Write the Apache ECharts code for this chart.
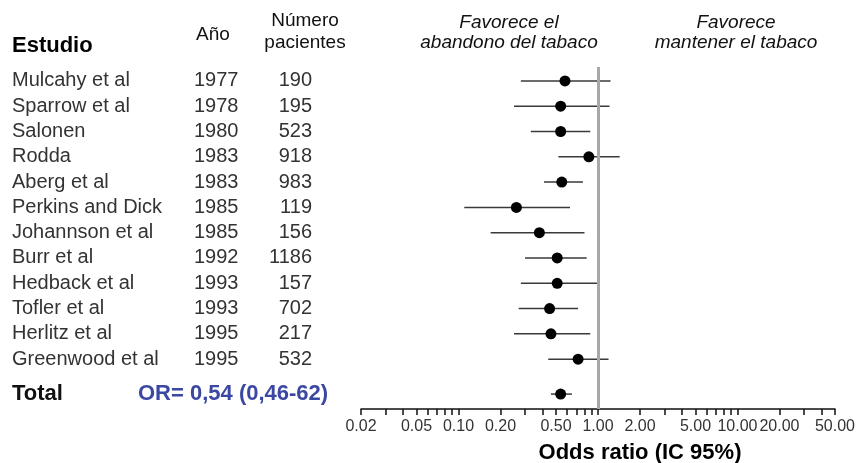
<!DOCTYPE html>
<html><head><meta charset="utf-8">
<script src="https://cdn.jsdelivr.net/npm/echarts@6/dist/echarts.min.js"></script>
<style>html,body{margin:0;padding:0;background:#fff}#c{width:858px;height:463px}</style>
</head><body><div id="c"></div>
<script>
const studies = ['Mulcahy et al','Sparrow et al','Salonen','Rodda','Aberg et al','Perkins and Dick','Johannson et al','Burr et al','Hedback et al','Tofler et al','Herlitz et al','Greenwood et al'];
const years = [1977,1978,1980,1983,1983,1985,1985,1992,1993,1993,1995,1995];
const patients = [190,195,523,918,983,119,156,1186,157,702,217,532];
const oddsRatio = [0.58,0.54,0.54,0.86,0.55,0.26,0.38,0.51,0.51,0.45,0.46,0.72];
const ciLow =     [0.28,0.25,0.33,0.52,0.41,0.11,0.17,0.30,0.28,0.27,0.25,0.44];
const ciHigh =    [1.23,1.21,0.88,1.43,0.78,0.63,0.80,0.83,0.99,0.72,0.88,1.19];
const totalOR = 0.54, totalLow = 0.46, totalHigh = 0.65;
const totalLabel = 'Total';
const totalText = 'OR= 0,54 (0,46-62)';
const tickLabelValues = [0.02,0.05,0.1,0.2,0.5,1,2,5,10,20,50];
const tickLabels = ['0.02','0.05','0.10','0.20','0.50','1.00','2.00','5.00','10.00','20.00','50.00'];
const tickMarkValues = [0.02,0.03,0.04,0.05,0.06,0.07,0.08,0.09,0.1,0.2,0.3,0.4,0.5,0.6,0.7,0.8,0.9,1,2,3,4,5,6,7,8,9,10,20,30,40,50];
const totalRowPos = 12.38;

const F = "'Liberation Sans', Arial, sans-serif";
const L = Math.log10;
const rowIdx = studies.map((s, i) => i);

function yAx(offset, align, values, formatter) {
  return {
    type: 'value', inverse: true, min: -0.55, max: 12.97, position: 'left', offset: offset,
    axisLine: {show: false}, axisTick: {show: false}, splitLine: {show: false},
    axisLabel: {customValues: values, align: align, margin: 0, formatter: formatter,
      fontFamily: F, fontSize: 20, color: '#333',
      rich: {b: {fontFamily: F, fontSize: 22, fontWeight: 'bold', color: '#111'},
             o: {fontFamily: F, fontSize: 22, fontWeight: 'bold', color: '#3a48a2'}}}
  };
}
const idxOf = v => Math.round(v);

const option = {
  animation: false,
  backgroundColor: '#fff',
  grid: {left: 361, right: 20, top: 67, bottom: 54},
  xAxis: {
    type: 'value', min: L(0.02), max: L(50),
    axisLine: {onZero: false, lineStyle: {color: '#111', width: 1.5}},
    axisTick: {customValues: tickMarkValues.map(L), length: 6, lineStyle: {color: '#111', width: 1.5}},
    axisLabel: {customValues: tickLabelValues.map(L), margin: 10, fontFamily: F, fontSize: 16, color: '#333',
      formatter: v => { const k = tickLabelValues.findIndex(t => Math.abs(L(t) - v) < 1e-6); return k >= 0 ? tickLabels[k] : ''; }},
    splitLine: {show: false}
  },
  yAxis: [
    yAx(349, 'left', rowIdx.concat([totalRowPos]), v => v > 11.5 ? '{b|' + totalLabel + '}' : studies[idxOf(v)]),
    yAx(167, 'left', rowIdx, v => String(years[idxOf(v)])),
    yAx(49, 'right', rowIdx, v => String(patients[idxOf(v)])),
    yAx(223, 'left', [totalRowPos], v => '{o|' + totalText + '}')
  ],
  series: [
    {
      type: 'custom', z: 2,
      data: studies.map((s, i) => [L(ciLow[i]), L(ciHigh[i]), i]).concat([[L(totalLow), L(totalHigh), totalRowPos]]),
      encode: {x: [0, 1], y: 2},
      renderItem: (params, api) => {
        const p1 = api.coord([api.value(0), api.value(2)]);
        const p2 = api.coord([api.value(1), api.value(2)]);
        return {type: 'line', shape: {x1: p1[0], y1: p1[1], x2: p2[0], y2: p2[1]}, style: {stroke: '#3a3a3a', lineWidth: 1.5}};
      },
      markLine: {silent: true, symbol: ['none', 'none'], label: {show: false},
        lineStyle: {color: '#a8a8a8', width: 3, type: 'solid'}, data: [{xAxis: 0}]}
    },
    {
      type: 'scatter', z: 3, symbol: 'circle', symbolSize: 11,
      itemStyle: {color: '#000', opacity: 1},
      data: studies.map((s, i) => [L(oddsRatio[i]), i]).concat([[L(totalOR), totalRowPos]])
    }
  ],
  graphic: [
    {type: 'text', x: 12, y: 46, style: {text: 'Estudio', fontFamily: F, fontSize: 22, fontWeight: 'bold', fill: '#000', align: 'left', verticalAlign: 'middle'}},
    {type: 'text', x: 213, y: 35, style: {text: 'Año', fontFamily: F, fontSize: 19, fill: '#111', align: 'center', verticalAlign: 'middle'}},
    {type: 'text', x: 305, y: 21, style: {text: 'Número', fontFamily: F, fontSize: 19, fill: '#111', align: 'center', verticalAlign: 'middle'}},
    {type: 'text', x: 305, y: 43, style: {text: 'pacientes', fontFamily: F, fontSize: 19, fill: '#111', align: 'center', verticalAlign: 'middle'}},
    {type: 'text', x: 509, y: 23, style: {text: 'Favorece el', fontFamily: F, fontSize: 19, fontStyle: 'italic', fill: '#111', align: 'center', verticalAlign: 'middle'}},
    {type: 'text', x: 509, y: 43, style: {text: 'abandono del tabaco', fontFamily: F, fontSize: 19, fontStyle: 'italic', fill: '#111', align: 'center', verticalAlign: 'middle'}},
    {type: 'text', x: 736, y: 23, style: {text: 'Favorece', fontFamily: F, fontSize: 19, fontStyle: 'italic', fill: '#111', align: 'center', verticalAlign: 'middle'}},
    {type: 'text', x: 736, y: 43, style: {text: 'mantener el tabaco', fontFamily: F, fontSize: 19, fontStyle: 'italic', fill: '#111', align: 'center', verticalAlign: 'middle'}},
    {type: 'text', x: 640, y: 453, style: {text: 'Odds ratio (IC 95%)', fontFamily: F, fontSize: 22, fontWeight: 'bold', fill: '#000', align: 'center', verticalAlign: 'middle'}}
  ]
};
const chart = echarts.init(document.getElementById('c'), null, {renderer: 'canvas'});
chart.setOption(option);
</script>
</body></html>
